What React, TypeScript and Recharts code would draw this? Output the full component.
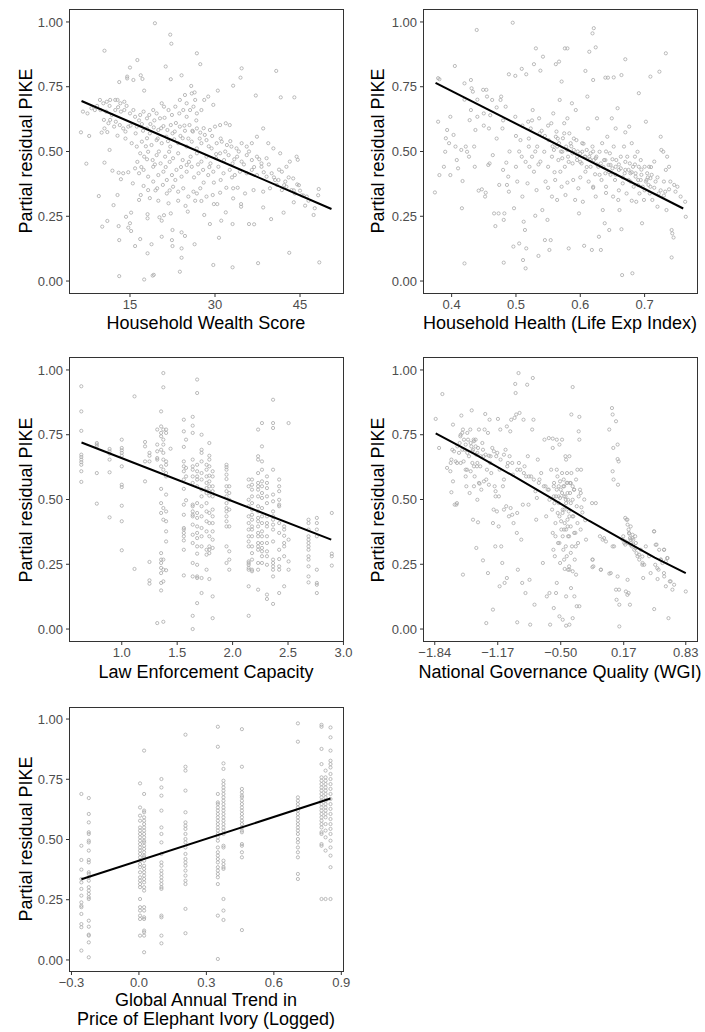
import React from "react";
import { ScatterChart, Scatter, XAxis, YAxis } from "recharts";

const FONT = '"Liberation Sans", Arial, Helvetica, sans-serif';
const yTicks = [0, 0.25, 0.5, 0.75, 1];

// --- Household Wealth Score ---
const wealthTicks = [15, 30, 45];
const wealthFit: [number, number][] = [[6.45, 0.695], [50.55, 0.278]];
const wealthPoints: [number, number][] = [
    [19.4, 0.995], [22.1, 0.951], [22.3, 0.916], [10.5, 0.889], [26.8, 0.879], [16.3, 0.853], [27.4, 0.837], [21.3, 0.828], [15.0, 0.824], [34.7, 0.821],
    [40.8, 0.811], [16.9, 0.794], [24.1, 0.794], [14.5, 0.789], [14.5, 0.782], [15.6, 0.776], [17.2, 0.78], [22.2, 0.779], [34.5, 0.785], [13.1, 0.768],
    [33.2, 0.754], [25.8, 0.753], [17.5, 0.735], [26.4, 0.728], [30.5, 0.735], [37.2, 0.716], [41.6, 0.709], [44.0, 0.709],
    [6.7, 0.654], [6.35, 0.574], [7.3, 0.453], [7.8, 0.56], [9.5, 0.328], [10.1, 0.21], [11.0, 0.232], [10.5, 0.457], [11.9, 0.426], [11.4, 0.506],
    [12.1, 0.293], [12.8, 0.332], [13.0, 0.212], [13.1, 0.158], [13.1, 0.019], [13.0, 0.418], [13.4, 0.393], [13.8, 0.416], [14.7, 0.42], [14.3, 0.248],
    [14.7, 0.206], [15.0, 0.223], [15.2, 0.193], [15.2, 0.264], [15.5, 0.377], [15.9, 0.135], [16.6, 0.313], [16.8, 0.162], [16.9, 0.332], [17.5, 0.006],
    [18.1, 0.258], [18.1, 0.242], [18.1, 0.107], [18.8, 0.142], [19.0, 0.021], [19.2, 0.024], [20.6, 0.171], [20.2, 0.246], [20.6, 0.233], [21.0, 0.254],
    [22.2, 0.261], [22.4, 0.158], [22.5, 0.135], [22.5, 0.197], [23.8, 0.036], [24.1, 0.09], [24.1, 0.126], [24.1, 0.188], [24.7, 0.174], [25.2, 0.268],
    [26.4, 0.142], [26.8, 0.338], [27.6, 0.309], [28.1, 0.255], [29.1, 0.22], [29.7, 0.062], [29.8, 0.38], [29.8, 0.297], [30.4, 0.297], [30.7, 0.167],
    [31.1, 0.233], [31.9, 0.265], [33.1, 0.053], [33.1, 0.22], [33.2, 0.358], [34.6, 0.297], [34.6, 0.287], [36.0, 0.22], [36.9, 0.219], [37.6, 0.069],
    [38.5, 0.284], [39.9, 0.239], [42.1, 0.264], [43.1, 0.109], [43.9, 0.304], [45.9, 0.291], [47.4, 0.255], [47.6, 0.281], [48.4, 0.072], [48.3, 0.355],
    [48.2, 0.331], [44.5, 0.373], [45.3, 0.331],
    [9.7, 0.699], [10.3, 0.686], [10.9, 0.692], [11.5, 0.699], [12.4, 0.699], [12.8, 0.699], [13.3, 0.686], [14.0, 0.692],
    [9.2, 0.676], [9.8, 0.66], [10.8, 0.654], [11.4, 0.676], [11.8, 0.641], [12.4, 0.66], [12.9, 0.671], [13.4, 0.654], [14.0, 0.66], [14.4, 0.676], [15.0, 0.647], [15.6, 0.66],
    [10.4, 0.622], [11.2, 0.609], [11.5, 0.622], [12.5, 0.615], [13.2, 0.602], [13.8, 0.589], [14.2, 0.577], [14.7, 0.596], [10.5, 0.589], [10.0, 0.573], [11.0, 0.575], [12.2, 0.596], [12.8, 0.561],
    [15.9, 0.634], [16.8, 0.641], [17.4, 0.654], [18.0, 0.628], [18.4, 0.641], [19.1, 0.66], [19.7, 0.647], [20.3, 0.628], [20.6, 0.686], [21.0, 0.673], [21.8, 0.66], [22.4, 0.641],
    [23.0, 0.673], [23.7, 0.647], [24.4, 0.66], [25.0, 0.686], [25.6, 0.66], [26.2, 0.673], [26.8, 0.647], [27.6, 0.66], [28.1, 0.699], [28.8, 0.712], [29.7, 0.68],
    [16.2, 0.596], [17.1, 0.606], [18.0, 0.589], [18.6, 0.606], [19.2, 0.593], [20.0, 0.583], [20.9, 0.598], [21.6, 0.583], [22.2, 0.602], [22.9, 0.577], [23.8, 0.596],
    [24.7, 0.58], [25.5, 0.602], [26.1, 0.577], [26.8, 0.589], [27.4, 0.573], [28.2, 0.564], [29.1, 0.583], [30.0, 0.596], [30.9, 0.602], [31.9, 0.609], [32.6, 0.602],
    [15.3, 0.532], [16.2, 0.519], [17.1, 0.538], [18.0, 0.551], [18.8, 0.525], [19.7, 0.544], [20.6, 0.532], [21.4, 0.557], [22.1, 0.519], [22.8, 0.547], [23.5, 0.532],
    [24.3, 0.551], [25.0, 0.519], [25.9, 0.538], [26.8, 0.512], [27.6, 0.532], [28.5, 0.544], [29.4, 0.512], [30.3, 0.532], [31.2, 0.538], [32.1, 0.525], [32.9, 0.519],
    [33.8, 0.512], [34.7, 0.532], [35.6, 0.519], [36.5, 0.532],
    [16.8, 0.493], [17.5, 0.48], [18.2, 0.499], [19.0, 0.467], [19.7, 0.486], [20.4, 0.454], [21.2, 0.48], [21.9, 0.499], [22.6, 0.474], [23.5, 0.493], [24.3, 0.467],
    [25.0, 0.448], [25.7, 0.48], [26.8, 0.493], [27.6, 0.461], [28.5, 0.48], [29.2, 0.454], [30.2, 0.474], [30.9, 0.493], [31.6, 0.467], [32.4, 0.486], [33.1, 0.454],
    [33.9, 0.48], [34.7, 0.461], [35.6, 0.486], [36.5, 0.467], [37.4, 0.48], [38.2, 0.454], [39.1, 0.474],
    [15.9, 0.435], [16.6, 0.416], [17.4, 0.429], [18.2, 0.403], [19.1, 0.441], [20.0, 0.409], [20.9, 0.422], [21.5, 0.39], [22.4, 0.409], [23.2, 0.429], [24.1, 0.403],
    [25.0, 0.422], [25.9, 0.441], [27.1, 0.416], [27.9, 0.429], [28.8, 0.409], [29.7, 0.422], [30.6, 0.441], [31.5, 0.416], [32.6, 0.429], [33.5, 0.409], [34.4, 0.422],
    [35.6, 0.416], [36.5, 0.429], [37.4, 0.409], [38.2, 0.441], [39.1, 0.403], [40.0, 0.416], [41.2, 0.39],
    [17.4, 0.367], [18.2, 0.351], [19.1, 0.384], [19.8, 0.358], [20.8, 0.371], [21.5, 0.338], [22.6, 0.364], [23.5, 0.345], [24.4, 0.358], [25.3, 0.326], [26.2, 0.345],
    [27.4, 0.358], [28.5, 0.326], [29.6, 0.332], [30.9, 0.341], [33.2, 0.319], [35.3, 0.338], [36.8, 0.351], [38.5, 0.345], [39.7, 0.358], [40.9, 0.371], [41.8, 0.351],
    [42.6, 0.364], [43.5, 0.351], [44.1, 0.338], [45.0, 0.349], [46.2, 0.326],
    [37.4, 0.557], [38.5, 0.589], [39.4, 0.532], [40.3, 0.512], [41.5, 0.493], [42.6, 0.441], [43.2, 0.461], [44.4, 0.48], [44.6, 0.468], [43.8, 0.396], [42.4, 0.384],
    [40.6, 0.39], [41.8, 0.422], [23.8, 0.699], [24.7, 0.718], [25.9, 0.724], [26.5, 0.699], [25.0, 0.634], [7.5, 0.647], [8.2, 0.667], [8.8, 0.66],
    [14.2, 0.55], [15.1, 0.6], [16.0, 0.57], [16.6, 0.62], [17.3, 0.58], [17.8, 0.52], [18.5, 0.57], [19.3, 0.62], [19.9, 0.55], [20.5, 0.59], [21.1, 0.63],
    [21.7, 0.54], [22.5, 0.57], [23.1, 0.61], [23.9, 0.56], [24.6, 0.6], [25.3, 0.55], [26.0, 0.58], [26.7, 0.62], [27.3, 0.55], [28.0, 0.59], [28.9, 0.52],
    [29.5, 0.56], [30.2, 0.49], [31.0, 0.55], [31.8, 0.5], [32.7, 0.54], [33.4, 0.47], [34.2, 0.5], [35.1, 0.45], [36.0, 0.5], [36.9, 0.44], [37.8, 0.47],
    [38.6, 0.42], [39.5, 0.45], [40.4, 0.4], [41.3, 0.43], [42.2, 0.37], [43.0, 0.4], [43.9, 0.35], [44.8, 0.37], [45.6, 0.33], [46.5, 0.31],
    [16.3, 0.46], [17.0, 0.44], [18.0, 0.47], [19.4, 0.45], [20.1, 0.5], [21.3, 0.44], [22.0, 0.46], [23.0, 0.39], [24.0, 0.44], [25.4, 0.46], [26.3, 0.4],
    [27.0, 0.45], [28.0, 0.38], [29.0, 0.44], [31.0, 0.39], [32.0, 0.36], [33.0, 0.4], [34.0, 0.36],
    [18.5, 0.32], [20.0, 0.31], [21.8, 0.3], [23.5, 0.31], [24.8, 0.29], [26.5, 0.31], [19.5, 0.35], [22.0, 0.35],
];

// --- Household Health (Life Exp Index) ---
const healthTicks = [0.4, 0.5, 0.6, 0.7];
const healthFit: [number, number][] = [[0.375, 0.765], [0.76, 0.28]];
const healthPoints: [number, number][] = [
    [0.439, 0.969], [0.495, 0.997], [0.405, 0.83], [0.489, 0.798], [0.499, 0.792], [0.509, 0.819], [0.516, 0.798], [0.528, 0.837], [0.531, 0.898], [0.538, 0.812],
    [0.542, 0.866], [0.562, 0.837], [0.567, 0.847], [0.571, 0.77], [0.576, 0.898], [0.58, 0.898], [0.608, 0.811], [0.614, 0.885], [0.619, 0.956], [0.621, 0.976],
    [0.624, 0.902], [0.62, 0.776], [0.639, 0.785], [0.643, 0.785], [0.652, 0.786], [0.664, 0.795], [0.67, 0.856], [0.691, 0.725], [0.709, 0.789], [0.723, 0.808], [0.733, 0.879],
    [0.374, 0.342], [0.379, 0.615], [0.381, 0.409], [0.379, 0.783], [0.381, 0.779], [0.388, 0.441], [0.39, 0.499], [0.391, 0.551], [0.393, 0.583], [0.396, 0.532],
    [0.398, 0.634], [0.398, 0.409], [0.403, 0.564], [0.406, 0.519], [0.408, 0.467], [0.41, 0.435], [0.415, 0.506], [0.417, 0.386], [0.416, 0.281], [0.42, 0.763],
    [0.42, 0.068], [0.422, 0.519], [0.424, 0.499], [0.427, 0.48], [0.428, 0.621], [0.43, 0.776], [0.431, 0.744], [0.433, 0.731], [0.435, 0.519], [0.436, 0.441],
    [0.437, 0.583], [0.44, 0.634], [0.442, 0.349], [0.447, 0.354], [0.449, 0.738], [0.45, 0.647], [0.452, 0.326], [0.453, 0.341], [0.454, 0.738], [0.455, 0.712],
    [0.457, 0.448], [0.458, 0.589], [0.459, 0.454], [0.463, 0.699], [0.464, 0.486], [0.466, 0.261], [0.468, 0.212], [0.473, 0.261], [0.474, 0.371], [0.476, 0.699],
    [0.477, 0.712], [0.479, 0.589], [0.48, 0.429], [0.481, 0.236], [0.482, 0.261], [0.481, 0.071], [0.484, 0.673], [0.485, 0.457], [0.486, 0.371], [0.488, 0.403], [0.489, 0.345],
    [0.496, 0.133], [0.497, 0.281], [0.499, 0.634], [0.5, 0.441], [0.502, 0.384], [0.505, 0.145], [0.507, 0.544], [0.509, 0.48], [0.51, 0.326], [0.511, 0.081],
    [0.512, 0.229], [0.514, 0.197], [0.515, 0.049], [0.516, 0.126], [0.518, 0.377], [0.519, 0.615], [0.52, 0.519], [0.521, 0.441], [0.523, 0.589], [0.525, 0.48],
    [0.526, 0.66], [0.528, 0.422], [0.53, 0.252], [0.532, 0.351], [0.533, 0.519], [0.535, 0.097], [0.536, 0.628], [0.537, 0.57], [0.538, 0.461], [0.541, 0.274],
    [0.544, 0.499], [0.545, 0.158], [0.546, 0.384], [0.549, 0.236], [0.55, 0.441], [0.551, 0.544], [0.552, 0.12], [0.554, 0.158], [0.555, 0.609], [0.556, 0.326],
    [0.558, 0.647], [0.559, 0.506], [0.561, 0.39], [0.562, 0.557], [0.563, 0.577], [0.564, 0.313], [0.566, 0.467], [0.567, 0.532], [0.568, 0.699], [0.569, 0.422],
    [0.571, 0.364], [0.572, 0.499], [0.573, 0.551], [0.575, 0.609], [0.576, 0.441], [0.577, 0.332], [0.578, 0.519], [0.58, 0.628], [0.581, 0.48], [0.582, 0.126],
    [0.583, 0.57], [0.585, 0.532], [0.587, 0.686], [0.588, 0.454], [0.589, 0.39], [0.59, 0.506], [0.592, 0.313], [0.593, 0.66], [0.594, 0.544], [0.595, 0.467],
    [0.597, 0.358], [0.598, 0.261],
    [0.6, 0.493], [0.602, 0.454], [0.603, 0.532], [0.604, 0.306], [0.606, 0.136], [0.607, 0.48], [0.608, 0.422], [0.61, 0.506], [0.611, 0.712], [0.612, 0.589],
    [0.613, 0.384], [0.614, 0.48], [0.616, 0.441], [0.618, 0.12], [0.619, 0.519], [0.62, 0.364], [0.621, 0.467], [0.623, 0.412], [0.624, 0.326], [0.625, 0.48],
    [0.626, 0.628], [0.628, 0.441], [0.629, 0.171], [0.63, 0.499], [0.632, 0.12], [0.633, 0.39], [0.634, 0.532], [0.635, 0.274], [0.637, 0.467], [0.638, 0.223],
    [0.639, 0.416], [0.64, 0.364], [0.642, 0.557], [0.644, 0.448], [0.645, 0.197], [0.646, 0.493], [0.647, 0.41], [0.649, 0.628], [0.65, 0.435], [0.651, 0.326],
    [0.652, 0.519], [0.654, 0.39], [0.655, 0.589], [0.656, 0.467], [0.658, 0.667], [0.659, 0.313], [0.66, 0.429], [0.661, 0.274], [0.663, 0.48], [0.664, 0.2],
    [0.665, 0.023], [0.666, 0.377], [0.668, 0.519], [0.669, 0.416], [0.67, 0.574], [0.672, 0.338], [0.673, 0.48], [0.675, 0.429], [0.676, 0.596], [0.677, 0.454],
    [0.678, 0.384], [0.68, 0.532], [0.681, 0.03], [0.682, 0.441], [0.683, 0.364], [0.685, 0.48], [0.686, 0.416], [0.687, 0.306], [0.689, 0.499], [0.69, 0.39],
    [0.691, 0.441], [0.692, 0.338], [0.694, 0.467], [0.695, 0.41], [0.696, 0.223], [0.697, 0.364], [0.699, 0.313], [0.7, 0.441],
    [0.702, 0.615], [0.703, 0.39], [0.704, 0.416], [0.706, 0.371], [0.707, 0.441], [0.708, 0.338], [0.709, 0.364], [0.711, 0.41], [0.712, 0.313], [0.715, 0.461],
    [0.717, 0.384], [0.72, 0.287], [0.722, 0.338], [0.725, 0.557], [0.726, 0.506], [0.729, 0.499], [0.73, 0.384], [0.732, 0.345], [0.734, 0.274], [0.735, 0.48],
    [0.738, 0.354], [0.74, 0.384], [0.742, 0.197], [0.743, 0.184], [0.745, 0.168], [0.742, 0.091], [0.746, 0.371], [0.748, 0.345], [0.751, 0.364], [0.756, 0.326],
    [0.763, 0.306], [0.764, 0.248], [0.733, 0.429], [0.738, 0.441],
    [0.556, 0.48], [0.564, 0.519], [0.572, 0.474], [0.58, 0.506], [0.588, 0.493], [0.595, 0.48], [0.603, 0.499], [0.608, 0.48], [0.616, 0.493], [0.624, 0.474],
    [0.632, 0.454], [0.639, 0.467], [0.647, 0.448], [0.655, 0.441], [0.663, 0.435], [0.67, 0.429], [0.678, 0.416], [0.686, 0.403], [0.694, 0.39], [0.702, 0.384], [0.709, 0.397],
    [0.545, 0.56], [0.55, 0.6], [0.557, 0.52], [0.565, 0.55], [0.57, 0.5], [0.575, 0.57], [0.582, 0.46], [0.586, 0.52], [0.59, 0.55], [0.596, 0.5], [0.6, 0.46],
    [0.605, 0.53], [0.61, 0.44], [0.615, 0.47], [0.62, 0.5], [0.626, 0.45], [0.63, 0.41], [0.636, 0.44], [0.64, 0.5], [0.645, 0.42], [0.65, 0.47], [0.655, 0.41],
    [0.66, 0.45], [0.666, 0.4], [0.67, 0.46], [0.675, 0.39], [0.68, 0.42], [0.685, 0.45], [0.69, 0.37], [0.695, 0.43], [0.7, 0.35], [0.705, 0.4], [0.71, 0.44],
    [0.715, 0.36], [0.72, 0.4], [0.725, 0.35], [0.73, 0.33],
    [0.5, 0.56], [0.505, 0.5], [0.51, 0.6], [0.515, 0.46], [0.52, 0.55], [0.525, 0.62], [0.53, 0.5], [0.535, 0.45], [0.54, 0.58], [0.45, 0.6], [0.46, 0.64],
    [0.47, 0.55], [0.48, 0.62], [0.49, 0.5], [0.42, 0.7], [0.43, 0.66], [0.44, 0.7], [0.47, 0.67],
    [0.58, 0.38], [0.6, 0.4], [0.62, 0.36], [0.64, 0.34], [0.66, 0.35], [0.68, 0.31], [0.56, 0.42], [0.55, 0.36],
];

// --- Law Enforcement Capacity (points sit in columns) ---
const lawTicks = [1.0, 1.5, 2.0, 2.5, 3.0];
const lawFit: [number, number][] = [[0.637, 0.72], [2.89, 0.345]];
const lawColumns = [0.635, 0.775, 0.89, 1.0, 1.115, 1.21, 1.25, 1.32, 1.355, 1.375, 1.4, 1.44, 1.56, 1.58, 1.64, 1.68, 1.72, 1.765, 1.79, 1.82, 1.945, 1.97, 2.145, 2.175, 2.23, 2.265, 2.31, 2.365, 2.42, 2.465, 2.505, 2.685, 2.76, 2.895];
const lawValues: number[][] = [
    [0.937, 0.84, 0.765, 0.673, 0.664, 0.654, 0.644, 0.634, 0.609, 0.568],
    [0.718, 0.712, 0.705, 0.602, 0.484],
    [0.695, 0.686, 0.677, 0.654, 0.605, 0.431],
    [0.731, 0.699, 0.69, 0.68, 0.669, 0.628, 0.557, 0.548, 0.476, 0.416, 0.304],
    [0.898, 0.232],
    [0.722, 0.705, 0.647, 0.57],
    [0.68, 0.669, 0.647, 0.259, 0.188, 0.175],
    [0.77, 0.712, 0.686, 0.66, 0.654, 0.023],
    [0.84, 0.782, 0.757, 0.744, 0.692, 0.628, 0.541, 0.486, 0.448, 0.293, 0.268, 0.255, 0.236, 0.216, 0.178, 0.149],
    [0.988, 0.933, 0.77, 0.731, 0.712, 0.68, 0.654, 0.615, 0.467, 0.422, 0.268, 0.229, 0.184, 0.028],
    [0.77, 0.757, 0.647, 0.634, 0.602, 0.589, 0.519, 0.454, 0.416, 0.377, 0.338, 0.227],
    [0.696],
    [0.808, 0.763, 0.703, 0.647, 0.628, 0.609, 0.577, 0.541, 0.48, 0.441, 0.39, 0.384, 0.371, 0.358, 0.342, 0.306, 0.207],
    [0.731, 0.622, 0.589, 0.497],
    [0.819, 0.785, 0.757, 0.654, 0.628, 0.615, 0.589, 0.564, 0.48, 0.474, 0.454, 0.441, 0.435, 0.403, 0.364, 0.332, 0.255, 0.203, 0.051, 0.0],
    [0.963, 0.911, 0.634, 0.609, 0.589, 0.577, 0.551, 0.486, 0.448, 0.429, 0.396, 0.371, 0.351, 0.319, 0.291, 0.248, 0.203, 0.197, 0.1],
    [0.75, 0.692, 0.68, 0.647, 0.602, 0.577, 0.538, 0.512, 0.474, 0.435, 0.39, 0.358, 0.319, 0.197, 0.139],
    [0.634, 0.615, 0.589, 0.564, 0.544, 0.525, 0.486, 0.454, 0.416, 0.377, 0.306, 0.287, 0.229],
    [0.718, 0.669, 0.654, 0.628, 0.592, 0.57, 0.551, 0.532, 0.515, 0.448, 0.409, 0.358, 0.319, 0.306, 0.293, 0.193],
    [0.609, 0.589, 0.551, 0.532, 0.512, 0.461, 0.435, 0.409, 0.377, 0.345, 0.313, 0.126, 0.042],
    [0.634, 0.625, 0.615, 0.596, 0.579, 0.551, 0.532, 0.512, 0.486, 0.467, 0.454, 0.435, 0.416, 0.396, 0.319, 0.255],
    [0.551, 0.525, 0.499, 0.461, 0.396, 0.3, 0.268, 0.229],
    [0.577, 0.551, 0.499, 0.474, 0.435, 0.409, 0.384, 0.358, 0.338, 0.319, 0.261, 0.255, 0.248, 0.236, 0.229, 0.165, 0.051],
    [0.577, 0.557, 0.538, 0.512, 0.486, 0.461, 0.441, 0.422, 0.396, 0.384, 0.358, 0.319, 0.293, 0.268, 0.229, 0.223],
    [0.77, 0.667, 0.654, 0.602, 0.564, 0.551, 0.538, 0.512, 0.474, 0.454, 0.429, 0.416, 0.396, 0.371, 0.358, 0.332, 0.319, 0.306, 0.255, 0.229, 0.152],
    [0.795, 0.705, 0.647, 0.615, 0.57, 0.551, 0.525, 0.506, 0.467, 0.435, 0.409, 0.377, 0.358, 0.332, 0.313, 0.3, 0.281, 0.255],
    [0.589, 0.564, 0.544, 0.512, 0.486, 0.435, 0.409, 0.396, 0.358, 0.332, 0.3, 0.281, 0.248, 0.133, 0.116],
    [0.885, 0.795, 0.776, 0.615, 0.519, 0.493, 0.454, 0.435, 0.422, 0.403, 0.384, 0.338, 0.268, 0.255, 0.242, 0.229, 0.203, 0.097],
    [0.577, 0.551, 0.532, 0.499, 0.48, 0.474, 0.409, 0.371, 0.306, 0.27, 0.242, 0.229, 0.139],
    [0.396, 0.384, 0.36, 0.332, 0.319, 0.281, 0.165],
    [0.795, 0.345, 0.261, 0.229],
    [0.422, 0.409, 0.384, 0.358, 0.345, 0.332, 0.319, 0.306, 0.281, 0.268, 0.242, 0.203, 0.18],
    [0.429, 0.409, 0.384, 0.358, 0.229, 0.178, 0.171, 0.139],
    [0.448, 0.291, 0.281, 0.245],
];

// --- National Governance Quality (WGI) ---
const govTicks = [-1.84, -1.17, -0.5, 0.17, 0.83];
const govFit: [number, number][] = [[-1.83, 0.755], [-1.4, 0.672], [-1.0, 0.59], [-0.6, 0.505], [-0.2, 0.418], [0.2, 0.336], [0.5, 0.276], [0.83, 0.216]];
const govPoints: [number, number][] = [
    [-1.83, 0.811], [-1.794, 0.699], [-1.759, 0.907], [-1.709, 0.622], [-1.674, 0.609], [-1.663, 0.654], [-1.653, 0.692], [-1.646, 0.789], [-1.646, 0.57], [-1.663, 0.528],
    [-1.628, 0.48], [-1.604, 0.486], [-1.603, 0.641], [-1.582, 0.68], [-1.575, 0.718], [-1.568, 0.744], [-1.557, 0.824], [-1.547, 0.757], [-1.54, 0.77], [-1.533, 0.647],
    [-1.522, 0.692], [-1.511, 0.589], [-1.504, 0.551], [-1.497, 0.615], [-1.486, 0.731], [-1.476, 0.667], [-1.469, 0.525], [-1.462, 0.77], [-1.451, 0.705], [-1.447, 0.844],
    [-1.44, 0.641], [-1.433, 0.692], [-1.426, 0.731], [-1.416, 0.589], [-1.405, 0.731], [-1.398, 0.673], [-1.391, 0.628], [-1.38, 0.699], [-1.37, 0.77], [-1.363, 0.561],
    [-1.356, 0.628], [-1.345, 0.538], [-1.334, 0.718], [-1.327, 0.692], [-1.321, 0.667], [-1.31, 0.77], [-1.303, 0.83], [-1.292, 0.577], [-1.285, 0.615], [-1.274, 0.757],
    [-1.264, 0.669], [-1.257, 0.808], [-1.25, 0.641], [-1.239, 0.602], [-1.228, 0.699], [-1.221, 0.409], [-1.214, 0.461], [-1.203, 0.551], [-1.193, 0.512], [-1.186, 0.667],
    [-1.179, 0.454], [-1.168, 0.811], [-1.16, 0.396], [-1.15, 0.615], [-1.143, 0.77], [-1.133, 0.319], [-1.122, 0.255], [-1.115, 0.551], [-1.104, 0.577], [-1.097, 0.178],
    [-1.087, 0.692], [-1.08, 0.474], [-1.073, 0.782], [-1.062, 0.641], [-1.051, 0.435], [-1.044, 0.667], [-1.037, 0.763], [-1.027, 0.808], [-1.016, 0.441], [-1.009, 0.596],
    [-1.002, 0.409], [-0.991, 0.815], [-0.984, 0.946], [-0.98, 0.911], [-0.974, 0.828], [-0.967, 0.371], [-0.963, 0.026], [-0.956, 0.229], [-0.949, 0.988], [-0.945, 0.641],
    [-0.938, 0.834], [-0.931, 0.615], [-0.92, 0.345], [-0.91, 0.178], [-0.903, 0.48], [-0.896, 0.808], [-0.885, 0.628], [-0.875, 0.139], [-0.868, 0.589], [-0.857, 0.943],
    [-0.85, 0.667], [-0.843, 0.48], [-0.832, 0.19], [-0.825, 0.017], [-0.815, 0.589], [-0.804, 0.77], [-0.797, 0.969], [-0.79, 0.808], [-0.779, 0.094], [-0.769, 0.532],
    [-0.761, 0.422], [-0.754, 0.506], [-0.744, 0.654],
    [-1.54, 0.21], [-1.327, 0.265], [-1.292, 0.023], [-1.274, 0.216], [-1.221, 0.075], [-1.196, 0.319], [-1.15, 0.165], [-1.073, 0.197], [-1.398, 0.313], [-1.433, 0.422],
    [-1.38, 0.412], [-1.61, 0.48],
    [-1.564, 0.75], [-1.529, 0.731], [-1.494, 0.757], [-1.511, 0.712], [-1.458, 0.718], [-1.423, 0.725], [-1.405, 0.705], [-1.387, 0.68], [-1.44, 0.686], [-1.494, 0.68],
    [-1.547, 0.692], [-1.6, 0.705], [-1.635, 0.686], [-1.67, 0.641], [-1.617, 0.647], [-1.564, 0.641], [-1.511, 0.615], [-1.458, 0.609], [-1.423, 0.628], [-1.387, 0.641],
    [-1.352, 0.667], [-1.299, 0.673], [-1.246, 0.667], [-1.211, 0.686], [-1.175, 0.68], [-1.14, 0.654], [-1.104, 0.673], [-1.069, 0.628], [-1.016, 0.641], [-0.963, 0.615],
    [-0.892, 0.602], [-0.839, 0.589], [-0.786, 0.577], [-0.733, 0.564], [-0.68, 0.551], [-0.627, 0.538], [-0.574, 0.551], [-0.521, 0.512], [-1.423, 0.551], [-1.37, 0.564],
    [-1.317, 0.57], [-1.264, 0.557], [-1.193, 0.532], [-1.158, 0.512], [-1.387, 0.499], [-1.104, 0.461], [-1.033, 0.467], [-0.963, 0.448],
    [-0.726, 0.577], [-0.708, 0.602], [-0.69, 0.255], [-0.673, 0.731], [-0.662, 0.551], [-0.655, 0.435], [-0.648, 0.126], [-0.638, 0.538], [-0.627, 0.737], [-0.62, 0.499],
    [-0.613, 0.017], [-0.602, 0.615], [-0.592, 0.461], [-0.585, 0.371], [-0.578, 0.306], [-0.571, 0.564], [-0.563, 0.281], [-0.556, 0.409], [-0.55, 0.512], [-0.542, 0.178],
    [-0.535, 0.589], [-0.528, 0.332], [-0.521, 0.486], [-0.514, 0.435], [-0.507, 0.255], [-0.5, 0.538], [-0.493, 0.384], [-0.486, 0.602], [-0.479, 0.461], [-0.472, 0.306],
    [-0.465, 0.512], [-0.458, 0.409], [-0.45, 0.667], [-0.443, 0.486], [-0.436, 0.281], [-0.429, 0.564], [-0.422, 0.358], [-0.415, 0.454], [-0.408, 0.229], [-0.401, 0.525],
    [-0.394, 0.396], [-0.387, 0.602], [-0.38, 0.319], [-0.373, 0.499], [-0.366, 0.435], [-0.359, 0.538], [-0.351, 0.268], [-0.344, 0.371], [-0.337, 0.577], [-0.33, 0.474],
    [-0.323, 0.615], [-0.316, 0.332], [-0.309, 0.512], [-0.302, 0.088], [-0.295, 0.538], [-0.288, 0.384],
    [-0.567, 0.486], [-0.542, 0.538], [-0.521, 0.551], [-0.507, 0.506], [-0.486, 0.525], [-0.472, 0.551], [-0.45, 0.512], [-0.436, 0.564], [-0.422, 0.499], [-0.532, 0.448],
    [-0.496, 0.416], [-0.461, 0.461], [-0.426, 0.396], [-0.556, 0.358], [-0.514, 0.332], [-0.479, 0.358], [-0.443, 0.384], [-0.408, 0.435], [-0.574, 0.512], [-0.468, 0.577],
    [-0.433, 0.602], [-0.542, 0.615], [-0.507, 0.57], [-0.401, 0.564], [-0.373, 0.551],
    [-0.464, 0.551], [-0.428, 0.525], [-0.393, 0.563], [-0.357, 0.538], [-0.446, 0.499], [-0.393, 0.486], [-0.481, 0.448], [-0.428, 0.422], [-0.375, 0.435], [-0.464, 0.384],
    [-0.411, 0.358], [-0.357, 0.371], [-0.446, 0.319], [-0.393, 0.294], [-0.464, 0.268], [-0.411, 0.242], [-0.34, 0.319], [-0.322, 0.409], [-0.287, 0.525], [-0.127, 0.486],
    [-0.514, 0.049], [-0.479, 0.036], [-0.443, 0.013], [-0.408, 0.017], [-0.373, 0.042], [-0.355, 0.126], [-0.33, 0.088], [-0.391, 0.158], [-0.443, 0.126], [-0.574, 0.081],
    [-0.62, 0.139], [-0.55, 0.139], [-0.458, 0.232], [-0.422, 0.229], [-0.373, 0.223], [-0.337, 0.21],
    [-0.585, 0.735], [-0.542, 0.731], [-0.514, 0.712], [-0.486, 0.731], [-0.443, 0.654], [-0.408, 0.667], [-0.387, 0.828], [-0.302, 0.819], [-0.309, 0.763], [-0.302, 0.731],
    [-0.284, 0.615], [-0.373, 0.934], [-0.585, 0.699], [-0.27, 0.45], [-0.25, 0.5], [-0.24, 0.42], [-0.28, 0.47],
    [-0.231, 0.345], [-0.167, 0.486], [-0.16, 0.268], [-0.153, 0.242], [-0.083, 0.358], [-0.072, 0.229], [-0.054, 0.345], [-0.019, 0.338], [0.017, 0.214], [0.052, 0.319],
    [0.105, 0.203], [0.088, 0.152], [0.094, 0.113], [0.123, 0.01], [0.123, 0.094], [0.193, 0.145], [0.222, 0.139], [0.236, 0.094], [0.211, 0.19],
    [-0.074, 0.229], [0.032, 0.216], [0.12, 0.152], [0.209, 0.132], [-0.163, 0.268], [-0.163, 0.239], [-0.039, 0.351], [0.067, 0.319],
    [0.016, 0.77], [0.045, 0.853], [0.052, 0.828], [0.059, 0.699], [0.052, 0.609], [0.062, 0.577], [0.088, 0.802], [0.105, 0.712], [0.105, 0.656], [0.116, 0.647], [0.109, 0.557],
    [0.165, 0.358], [0.176, 0.332], [0.186, 0.429], [0.2, 0.422], [0.211, 0.403], [0.222, 0.384], [0.229, 0.368], [0.236, 0.351], [0.246, 0.332], [0.257, 0.319],
    [0.264, 0.364], [0.271, 0.345], [0.282, 0.306], [0.292, 0.358], [0.299, 0.332], [0.306, 0.293], [0.317, 0.281], [0.335, 0.268], [0.352, 0.306], [0.37, 0.255],
    [0.388, 0.248], [0.405, 0.319], [0.158, 0.345], [0.186, 0.326], [0.214, 0.332], [0.243, 0.345], [0.271, 0.326],
    [0.209, 0.422], [0.244, 0.396], [0.226, 0.371], [0.262, 0.351], [0.191, 0.338], [0.244, 0.325], [0.297, 0.312], [0.333, 0.287], [0.368, 0.28], [0.368, 0.248], [0.456, 0.216],
    [0.494, 0.377], [0.505, 0.248], [0.519, 0.326], [0.53, 0.193], [0.54, 0.229], [0.565, 0.268], [0.582, 0.255], [0.6, 0.203], [0.618, 0.165], [0.635, 0.274],
    [0.646, 0.042], [0.66, 0.184], [0.688, 0.152], [0.706, 0.171], [0.83, 0.145], [0.494, 0.077], [0.44, 0.281], [0.377, 0.197], [0.6, 0.306], [0.618, 0.261], [0.547, 0.306],
    [0.492, 0.377], [0.598, 0.306], [0.51, 0.325], [0.563, 0.268], [0.633, 0.274], [0.527, 0.235], [0.598, 0.216], [0.669, 0.184],
];

// --- Global Annual Trend in Price of Elephant Ivory (Logged), columns by year ---
const ivoryTicks = [-0.3, 0, 0.3, 0.6, 0.9];
const ivoryFit: [number, number][] = [[-0.256, 0.335], [0.852, 0.67]];
const ivoryColumns = [-0.256, -0.223, 0.005, 0.023, 0.1, 0.207, 0.351, 0.376, 0.458, 0.707, 0.812, 0.83, 0.852];
const ivoryValues: number[][] = [
    [0.689, 0.474, 0.415, 0.375, 0.336, 0.322, 0.295, 0.267, 0.239, 0.225, 0.219, 0.191, 0.149, 0.136, 0.039],
    [0.672, 0.606, 0.571, 0.53, 0.523, 0.495, 0.488, 0.454, 0.415, 0.405, 0.364, 0.357, 0.343, 0.329, 0.302, 0.288, 0.274, 0.26, 0.253, 0.163, 0.138, 0.105, 0.101, 0.073, 0.011],
    [0.733, 0.633, 0.599, 0.578, 0.55, 0.537, 0.523, 0.509, 0.495, 0.481, 0.467, 0.454, 0.44, 0.426, 0.412, 0.398, 0.385, 0.364, 0.343, 0.329, 0.315, 0.302, 0.253, 0.219, 0.205, 0.184, 0.17, 0.101],
    [0.869, 0.689, 0.62, 0.613, 0.592, 0.578, 0.564, 0.55, 0.537, 0.523, 0.509, 0.495, 0.488, 0.474, 0.461, 0.447, 0.433, 0.426, 0.412, 0.391, 0.378, 0.364, 0.35, 0.336, 0.322, 0.302, 0.288, 0.219, 0.205, 0.177, 0.17, 0.122, 0.115, 0.101, 0.032],
    [0.751, 0.716, 0.682, 0.62, 0.55, 0.523, 0.488, 0.44, 0.405, 0.391, 0.371, 0.357, 0.343, 0.329, 0.315, 0.302, 0.295, 0.184, 0.177, 0.101, 0.069],
    [0.935, 0.802, 0.786, 0.703, 0.613, 0.571, 0.557, 0.544, 0.523, 0.502, 0.488, 0.467, 0.44, 0.419, 0.405, 0.391, 0.371, 0.35, 0.329, 0.315, 0.212, 0.111],
    [0.968, 0.885, 0.689, 0.654, 0.647, 0.633, 0.62, 0.606, 0.592, 0.578, 0.564, 0.55, 0.537, 0.523, 0.509, 0.495, 0.467, 0.447, 0.433, 0.419, 0.405, 0.385, 0.371, 0.357, 0.343, 0.315, 0.184, 0.004],
    [0.816, 0.793, 0.744, 0.73, 0.716, 0.703, 0.689, 0.675, 0.661, 0.647, 0.633, 0.62, 0.606, 0.592, 0.578, 0.564, 0.55, 0.537, 0.523, 0.474, 0.467, 0.412, 0.398, 0.385, 0.378, 0.253, 0.205, 0.166],
    [0.958, 0.802, 0.71, 0.696, 0.682, 0.675, 0.661, 0.647, 0.633, 0.62, 0.606, 0.592, 0.578, 0.564, 0.55, 0.537, 0.53, 0.481, 0.474, 0.447, 0.426, 0.124],
    [0.982, 0.906, 0.675, 0.661, 0.647, 0.633, 0.62, 0.606, 0.592, 0.578, 0.564, 0.55, 0.537, 0.523, 0.502, 0.488, 0.467, 0.447, 0.426, 0.357, 0.336],
    [0.976, 0.968, 0.876, 0.813, 0.758, 0.744, 0.73, 0.716, 0.703, 0.689, 0.675, 0.661, 0.647, 0.633, 0.62, 0.606, 0.592, 0.578, 0.564, 0.55, 0.53, 0.523, 0.481, 0.474, 0.253],
    [0.786, 0.758, 0.744, 0.73, 0.716, 0.703, 0.689, 0.675, 0.661, 0.647, 0.633, 0.62, 0.606, 0.592, 0.564, 0.537, 0.509, 0.454, 0.253],
    [0.965, 0.924, 0.869, 0.827, 0.813, 0.799, 0.772, 0.751, 0.73, 0.71, 0.689, 0.668, 0.647, 0.627, 0.606, 0.585, 0.564, 0.544, 0.523, 0.495, 0.467, 0.433, 0.385, 0.253],
];

type Pt = { x: number; y: number };
const toPts = (arr: [number, number][]): Pt[] => arr.map(([x, y]) => ({ x, y }));
const fromColumns = (xs: number[], ys: number[][]): Pt[] => xs.flatMap((x, i) => ys[i].map((y) => ({ x, y })));
const minus = (s: string) => s.replace("-", "\u2212");

const Ring = (props: any) => <circle cx={props.cx} cy={props.cy} r={1.6} fill="none" stroke="#a9a9a9" strokeWidth={0.8} />;
const NoDot = () => <g />;

type PanelProps = {
    left: number; top: number; w: number; h: number;
    xDomain: [number, number]; xTicks: number[]; digits: number;
    points: Pt[]; fit: Pt[];
};

function Panel({ left, top, w, h, xDomain, xTicks, digits, points, fit }: PanelProps) {
    const tick = { fontSize: 13, fill: "#4d4d4d", fontFamily: FONT };
    return (
        <>
            <div style={{ position: "absolute", left: left - 60, top: top - 10 }}>
                <ScatterChart width={w + 80} height={h + 40} margin={{ top: 10, right: 20, bottom: 0, left: 0 }}>
                    <XAxis type="number" dataKey="x" domain={xDomain} ticks={xTicks} interval={0} allowDataOverflow
                        tickFormatter={(v: number) => minus(v.toFixed(digits))} axisLine={false}
                        tickLine={{ stroke: "#333" }} tickSize={3} tickMargin={3} height={30} tick={tick} />
                    <YAxis type="number" dataKey="y" domain={[-0.05, 1.05]} ticks={yTicks} interval={0} allowDataOverflow
                        tickFormatter={(v: number) => v.toFixed(2)} axisLine={false}
                        tickLine={{ stroke: "#333" }} tickSize={3} tickMargin={3} width={60} tick={tick} />
                    <Scatter data={points} shape={Ring} isAnimationActive={false} />
                    <Scatter data={fit} shape={NoDot} line={{ stroke: "#000", strokeWidth: 2 }} isAnimationActive={false} />
                </ScatterChart>
            </div>
            <div style={{ position: "absolute", left, top, width: w, height: h, border: "1px solid #333", boxSizing: "border-box" }} />
        </>
    );
}

const titleStyle: React.CSSProperties = {
    position: "absolute", fontFamily: FONT, fontSize: 18, lineHeight: "18px", color: "#000", whiteSpace: "nowrap",
};

function XTitle({ cx, cy, text }: { cx: number; cy: number; text: string }) {
    return <div style={{ ...titleStyle, left: cx, top: cy, transform: "translate(-50%, -50%)" }}>{text}</div>;
}

function YTitle({ cx, cy }: { cx: number; cy: number }) {
    return <div style={{ ...titleStyle, left: cx, top: cy, transform: "translate(-50%, -50%) rotate(-90deg)" }}>Partial residual PIKE</div>;
}

export default function App() {
    return (
        <div style={{ position: "absolute", left: 0, top: 0, width: 705, height: 1032, background: "#fff", overflow: "hidden" }}>
            <Panel left={69} top={9} w={275} h={285} xDomain={[4.24, 52.76]} xTicks={wealthTicks} digits={0}
                points={toPts(wealthPoints)} fit={toPts(wealthFit)} />
            <YTitle cx={26} cy={151} />
            <XTitle cx={206} cy={323} text="Household Wealth Score" />

            <Panel left={423} top={9} w={275} h={285} xDomain={[0.3555, 0.783]} xTicks={healthTicks} digits={1}
                points={toPts(healthPoints)} fit={toPts(healthFit)} />
            <YTitle cx={378} cy={151} />
            <XTitle cx={560} cy={323} text="Household Health (Life Exp Index)" />

            <Panel left={69} top={357} w={275} h={285} xDomain={[0.524, 3.005]} xTicks={lawTicks} digits={1}
                points={fromColumns(lawColumns, lawValues)} fit={toPts(lawFit)} />
            <YTitle cx={26} cy={500} />
            <XTitle cx={206} cy={672} text="Law Enforcement Capacity" />

            <Panel left={423} top={357} w={275} h={285} xDomain={[-1.965, 0.96]} xTicks={govTicks} digits={2}
                points={toPts(govPoints)} fit={toPts(govFit)} />
            <YTitle cx={378} cy={500} />
            <XTitle cx={560} cy={672} text="National Governance Quality (WGI)" />

            <Panel left={69} top={707} w={275} h={265} xDomain={[-0.311, 0.912]} xTicks={ivoryTicks} digits={1}
                points={fromColumns(ivoryColumns, ivoryValues)} fit={toPts(ivoryFit)} />
            <YTitle cx={26} cy={839} />
            <XTitle cx={206} cy={1000} text="Global Annual Trend in" />
            <XTitle cx={206} cy={1019} text="Price of Elephant Ivory (Logged)" />
        </div>
    );
}
